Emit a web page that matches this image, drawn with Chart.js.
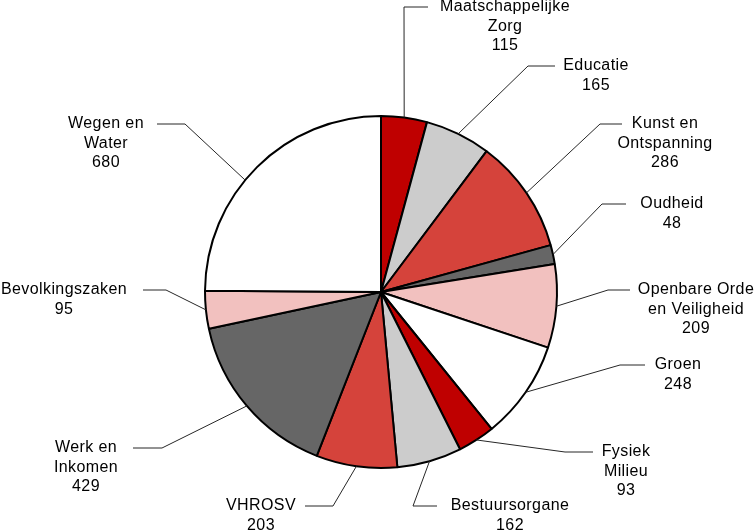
<!DOCTYPE html>
<html>
<head>
<meta charset="utf-8">
<script src="https://cdn.jsdelivr.net/npm/chart.js@4/dist/chart.umd.min.js"></script>
<style>
html,body{margin:0;padding:0;background:#fff;}
#wrap{width:756px;height:530px;position:relative;}
</style>
</head>
<body>
<div id="wrap"><canvas id="c" width="756" height="530"></canvas></div>
<script>
// Data
const categories = [
  ["Maatschappelijke","Zorg"],
  ["Educatie"],
  ["Kunst en","Ontspanning"],
  ["Oudheid"],
  ["Openbare Orde","en Veiligheid"],
  ["Groen"],
  ["Fysiek","Milieu"],
  ["Bestuursorgane"],
  ["VHROSV"],
  ["Werk en","Inkomen"],
  ["Bevolkingszaken"],
  ["Wegen en","Water"]
];
const values = [115, 165, 286, 48, 209, 248, 93, 162, 203, 429, 95, 680];

// Styles
const DARKRED = '#BF0000', RED = '#D5433B', PINK = '#F2C1BF', LGRAY = '#CCCCCC', DGRAY = '#666666', WHITE = '#FFFFFF';
const sliceColors = [DARKRED, LGRAY, RED, DGRAY, PINK, WHITE, DARKRED, LGRAY, RED, DGRAY, PINK, WHITE];

// Label layout, offsets relative to pie centre: elbow point, end of horizontal line, text centre/first line
const labelElbow = [[23,-285],[147,-226],[219,-168],[221,-88],[227,-2],[239,73],[184,160],[32,214],[-48,214],[-219,156],[-215,-2],[-196,-168]];
const labelEnd   = [[47,-285],[174,-226],[241,-168],[245,-88],[249,-2],[264,73],[212,160],[56,214],[-76,214],[-248,156],[-238,-2],[-224,-168]];
const labelText  = [[124,-285],[215,-226],[284,-168],[291,-88],[315,-2],[297,73],[245,160],[129,214],[-120,214],[-295,156],[-317,-2],[-275,-168]];
// where along each slice the leader line starts (0 = start edge, 1 = end edge)
const leaderFrac = [0.5,0.5,0.5,0.5,0.5,0.5,0.5,0.5,0.5,0.5,0.5,0.436];
const LINE_H = 19.5;

const leaderPlugin = {
  id: 'leaders',
  afterDatasetsDraw(chart) {
    const ctx = chart.ctx;
    const meta = chart.getDatasetMeta(0);
    ctx.save();
    meta.data.forEach((arc, i) => {
      const p = arc.getProps(['x','y','startAngle','endAngle','outerRadius'], true);
      const a = p.startAngle + (p.endAngle - p.startAngle) * leaderFrac[i];
      const sx = p.x + Math.cos(a) * p.outerRadius;
      const sy = p.y + Math.sin(a) * p.outerRadius;
      const ex = p.x + labelElbow[i][0], ey = p.y + labelElbow[i][1];
      const hx = p.x + labelEnd[i][0], hy = p.y + labelEnd[i][1];
      ctx.beginPath();
      ctx.strokeStyle = '#262626';
      ctx.lineWidth = 1;
      ctx.moveTo(sx, sy);
      ctx.lineTo(ex, ey);
      ctx.lineTo(hx, hy);
      ctx.stroke();
      const lines = categories[i].concat([String(values[i])]);
      const tx = p.x + labelText[i][0], ty = p.y + labelText[i][1];
      ctx.fillStyle = '#000000';
      ctx.font = '16px "Liberation Sans", Arial, sans-serif';
      try { ctx.letterSpacing = '0.4px'; } catch(e) {}
      ctx.textAlign = 'center';
      ctx.textBaseline = 'middle';
      lines.forEach((t, k) => ctx.fillText(t, tx, ty + k * LINE_H));
    });
    ctx.restore();
  }
};

new Chart(document.getElementById('c'), {
  type: 'pie',
  data: {
    labels: categories.map(c => c.join(' ')),
    datasets: [{
      data: values,
      backgroundColor: sliceColors,
      borderColor: '#000000',
      borderWidth: 2,
      hoverOffset: 0
    }]
  },
  options: {
    responsive: false,
    animation: false,
    events: [],
    layout: { padding: { left: 204, right: 198, top: 115, bottom: 61 } },
    plugins: { legend: { display: false }, tooltip: { enabled: false } }
  },
  plugins: [leaderPlugin]
});
</script>
</body>
</html>
